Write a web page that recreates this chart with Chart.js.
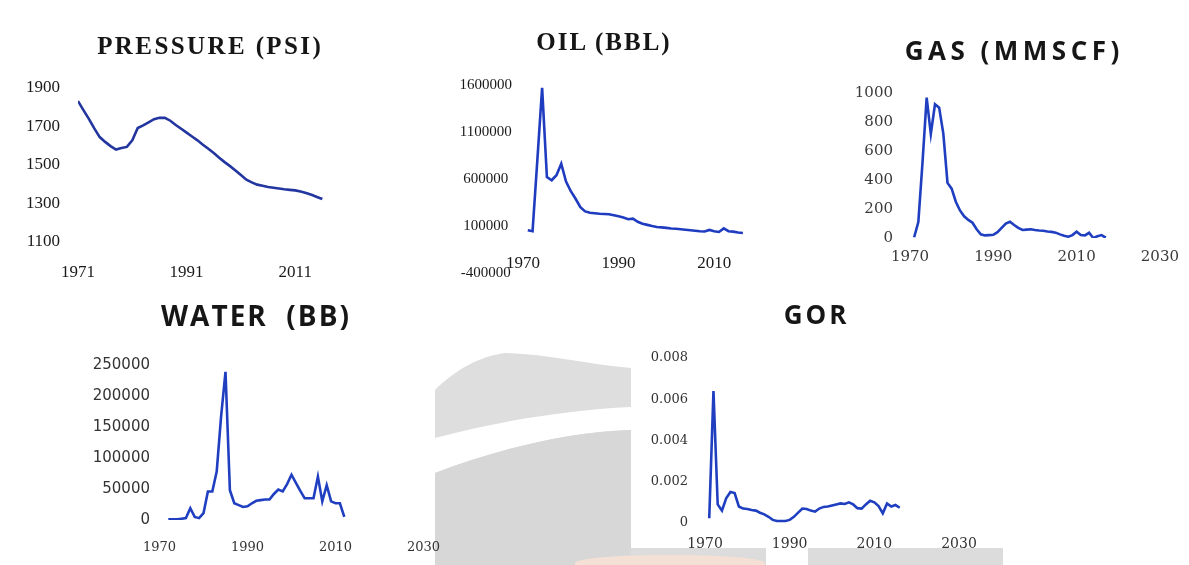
<!DOCTYPE html>
<html>
<head>
<meta charset="utf-8">
<script src="https://cdn.jsdelivr.net/npm/chart.js@4.4.1/dist/chart.umd.min.js"></script>
<style>
  html, body { margin: 0; padding: 0; background: #fff; }
  #page { position: relative; width: 1189px; height: 565px; overflow: hidden; background: #fff; }
  #page canvas { position: absolute; left: 0; top: 0; }
  .title { position: absolute; white-space: nowrap; color: #161616; font-weight: bold; transform: translate(-50%, -50%); line-height: 1; }
  .serif { font-family: 'Liberation Serif', serif; }
  .sans { font-family: 'Open Sans', sans-serif; }
  .deco { position: absolute; }
</style>
</head>
<body>
<div id="page">
  <!-- watermark behind the lower charts -->
  <svg class="deco" style="left:435px;top:350px" width="196" height="215">
    <path d="M0 40 C 20 20, 45 6, 70 3 C 110 4, 150 14, 196 18 L196 215 L0 215 Z" fill="#dedede"/>
    <path d="M0 88 C 60 72, 130 60, 196 57 L196 80 C 130 82, 60 100, 0 123 Z" fill="#ffffff"/>
    <path d="M0 123 C 60 100, 130 82, 196 80 L196 215 L0 215 Z" fill="#d7d7d7"/>
  </svg>
  <div class="deco" style="left:631px;top:548px;width:135px;height:17px;background:#dcdcdc"></div>
  <div class="deco" style="left:808px;top:548px;width:195px;height:17px;background:#dcdcdc"></div>
  <div class="deco" style="left:575px;top:555px;width:190px;height:16px;border-radius:50% 50% 0 0;background:#f5e0d6"></div>

  <canvas id="pressureChart" width="1189" height="565"></canvas>
  <canvas id="oilChart" width="1189" height="565"></canvas>
  <canvas id="gasChart" width="1189" height="565"></canvas>
  <canvas id="waterChart" width="1189" height="565"></canvas>
  <canvas id="gorChart" width="1189" height="565"></canvas>

  <div class="title serif" style="left:209px;top:45px;font-size:25px;letter-spacing:2.4px;padding-left:2.4px">PRESSURE (PSI)</div>
  <div class="title serif" style="left:603px;top:41px;font-size:25px;letter-spacing:2px;padding-left:2px">OIL (BBL)</div>
  <div class="title sans" style="left:1012px;top:50px;font-size:26px;letter-spacing:4.5px;padding-left:4.5px">GAS (MMSCF)</div>
  <div class="title sans" style="left:255px;top:315px;font-size:28px;letter-spacing:2px;padding-left:2px">WATER&nbsp; (BB)</div>
  <div class="title sans" style="left:815px;top:314px;font-size:26px;letter-spacing:3px;padding-left:3px">GOR</div>
</div>

<script>
// années
const years1971to2016 = [1971, 1972, 1973, 1974, 1975, 1976, 1977, 1978, 1979, 1980,
    1981, 1982, 1983, 1984, 1985, 1986, 1987, 1988, 1989, 1990,
    1991, 1992, 1993, 1994, 1995, 1996, 1997, 1998, 1999, 2000,
    2001, 2002, 2003, 2004, 2005, 2006, 2007, 2008, 2009, 2010,
    2011, 2012, 2013, 2014, 2015, 2016];
const years1971to2017 = [1971, 1972, 1973, 1974, 1975, 1976, 1977, 1978, 1979, 1980,
    1981, 1982, 1983, 1984, 1985, 1986, 1987, 1988, 1989, 1990,
    1991, 1992, 1993, 1994, 1995, 1996, 1997, 1998, 1999, 2000,
    2001, 2002, 2003, 2004, 2005, 2006, 2007, 2008, 2009, 2010,
    2011, 2012, 2013, 2014, 2015, 2016, 2017];
const years1972to2012 = [1972, 1973, 1974, 1975, 1976, 1977, 1978, 1979, 1980,
    1981, 1982, 1983, 1984, 1985, 1986, 1987, 1988, 1989, 1990,
    1991, 1992, 1993, 1994, 1995, 1996, 1997, 1998, 1999, 2000,
    2001, 2002, 2003, 2004, 2005, 2006, 2007, 2008, 2009, 2010,
    2011, 2012];

// PRESSURE (PSI), 1971-2016
const pressure = [1832, 1785, 1740, 1690, 1645, 1620, 1598, 1580, 1588, 1594,
    1628, 1692, 1706, 1722, 1738, 1745, 1745, 1730, 1708, 1688,
    1668, 1648, 1628, 1605, 1584, 1562, 1538, 1515, 1494, 1472,
    1448, 1424, 1410, 1398, 1392, 1386, 1382, 1378, 1374, 1371,
    1368, 1362, 1355, 1345, 1334, 1323];

// OIL (BBL), 1971-2016
const oil = [55000, 45000, 800000, 1570000, 620000, 587000, 640000, 763000, 573000, 470000,
    390000, 300000, 255000, 240000, 235000, 230000, 228000, 225000, 215000, 203000,
    190000, 172000, 178000, 145000, 125000, 112000, 100000, 90000, 85000, 80000,
    74000, 70000, 66000, 60000, 55000, 50000, 44000, 42000, 58000, 45000,
    37000, 75000, 45000, 40000, 30000, 26000];

// GAS (MMSCF), 1971-2017
const gas = [5, 110, 520, 968, 717, 922, 899, 720, 380, 340,
    250, 190, 150, 125, 105, 60, 25, 18, 20, 22,
    40, 70, 100, 112, 90, 70, 55, 58, 60, 55,
    52, 50, 45, 42, 37, 25, 15, 9, 20, 43,
    20, 18, 36, 0, 12, 20, 2];

// WATER (BB), 1972-2012
const water = [1000, 1000, 1000, 2000, 3000, 19000, 5000, 3000, 11000,
    46000, 46000, 78000, 167000, 239000, 48000, 27000, 24000, 21000, 22000,
    27000, 31000, 32000, 33000, 33000, 42000, 49000, 46000, 58000, 73000,
    60000, 47000, 35000, 35000, 35000, 70000, 30000, 56000, 30000, 27000,
    27000, 5000];

// GOR, 1971-2016
const gor = [0.00023, 0.0064, 0.0009, 0.0006, 0.0012, 0.0015, 0.00145, 0.0008, 0.0007, 0.00068,
    0.00063, 0.0006, 0.0005, 0.00042, 0.0003, 0.00015, 0.0001, 0.0001, 0.0001, 0.00015,
    0.0003, 0.0005, 0.0007, 0.00068, 0.0006, 0.00055, 0.0007, 0.00078, 0.0008, 0.00085,
    0.0009, 0.00095, 0.00092, 0.001, 0.0009, 0.00072, 0.0007, 0.0009, 0.00108, 0.001,
    0.00082, 0.00047, 0.00095, 0.0008, 0.00087, 0.00074];

// graduations
const pressureXTicks = [1971, 1991, 2011];
const pressureYTicks = [1100, 1300, 1500, 1700, 1900];
const oilXTicks = [1970, 1990, 2010];
const oilYTicks = [-400000, 100000, 600000, 1100000, 1600000];
const gasXTicks = [1970, 1990, 2010, 2030];
const gasYTicks = [0, 200, 400, 600, 800, 1000];
const waterXTicks = [1970, 1990, 2010, 2030];
const waterYTicks = [0, 50000, 100000, 150000, 200000, 250000];
const gorXTicks = [1970, 1990, 2010, 2030];
const gorYTicks = [0, 0.002, 0.004, 0.006, 0.008];

const PAGE_W = 1189, PAGE_H = 565;
const X_BOX = 40;

function drawSmallChart(id, years, values, xTicks, yTicks, o) {
    const points = values.map((v, i) => ({ x: years[i], y: v }));
    const yBox = Math.min(o.left, 120);
    const bottomPad = o.xAtZero ? PAGE_H - o.bottom : PAGE_H - o.bottom - X_BOX;
    return new Chart(document.getElementById(id), {
        type: 'line',
        data: {
            datasets: [{
                data: points,
                borderColor: o.color,
                borderWidth: 2.6,
                pointRadius: 0,
                tension: 0,
                fill: false
            }]
        },
        options: {
            responsive: false,
            animation: false,
            events: [],
            layout: {
                padding: { left: o.left - yBox, right: PAGE_W - o.right, top: o.top, bottom: bottomPad }
            },
            plugins: { legend: { display: false }, tooltip: { enabled: false }, title: { display: false } },
            scales: {
                x: {
                    type: 'linear',
                    min: o.xMin,
                    max: o.xMax,
                    position: o.xAtZero ? { y: 0 } : 'bottom',
                    grid: { display: false, drawTicks: false },
                    border: { display: false },
                    ticks: {
                        color: o.tickColor,
                        font: { family: o.xFont, size: o.xSize },
                        padding: o.xPad,
                        maxRotation: 0,
                        callback: v => String(v)
                    },
                    afterBuildTicks: s => { s.ticks = xTicks.map(v => ({ value: v })); },
                    afterFit: s => { s.height = X_BOX; }
                },
                y: {
                    min: yTicks[0],
                    max: yTicks[yTicks.length - 1],
                    grid: { display: false, drawTicks: false },
                    border: { display: false },
                    ticks: {
                        color: o.tickColor,
                        font: { family: o.yFont, size: o.ySize },
                        padding: o.yPad,
                        crossAlign: o.yAlign || 'near',
                        callback: v => String(v)
                    },
                    afterBuildTicks: s => { s.ticks = yTicks.map(v => ({ value: v })); },
                    afterFit: s => { s.width = yBox; }
                }
            }
        }
    });
}

drawSmallChart('pressureChart', years1971to2016, pressure, pressureXTicks, pressureYTicks, {
    left: 78, right: 349.5, top: 88, bottom: 242, xMin: 1971, xMax: 2021,
    color: '#23359f', tickColor: '#1a1a1a',
    xFont: 'Liberation Serif', xSize: 17, xPad: 20,
    yFont: 'Liberation Serif', ySize: 17, yPad: 18
});

drawSmallChart('oilChart', years1971to2016, oil, oilXTicks, oilYTicks, {
    left: 523, right: 762, top: 85, bottom: 273, xMin: 1970, xMax: 2020, xAtZero: true,
    color: '#1f3cc0', tickColor: '#1a1a1a',
    xFont: 'Liberation Serif', xSize: 17, xPad: 18,
    yFont: 'Liberation Serif', ySize: 15, yPad: 11, yAlign: 'center'
});

drawSmallChart('gasChart', years1971to2017, gas, gasXTicks, gasYTicks, {
    left: 910, right: 1163, top: 93, bottom: 238, xMin: 1970, xMax: 2030,
    color: '#1f3fc0', tickColor: '#3a3a3a',
    xFont: 'DejaVu Serif', xSize: 15, xPad: 10,
    yFont: 'DejaVu Serif', ySize: 15, yPad: 17
});

drawSmallChart('waterChart', years1972to2012, water, waterXTicks, waterYTicks, {
    left: 159.5, right: 423.5, top: 365, bottom: 520, xMin: 1970, xMax: 2030,
    color: '#1f3fc0', tickColor: '#333333',
    xFont: 'DejaVu Serif', xSize: 13, xPad: 20,
    yFont: 'DejaVu Sans', ySize: 15, yPad: 9.5
});

drawSmallChart('gorChart', years1971to2016, gor, gorXTicks, gorYTicks, {
    left: 705, right: 959, top: 358, bottom: 523, xMin: 1970, xMax: 2030,
    color: '#1f3fc0', tickColor: '#333333',
    xFont: 'DejaVu Serif', xSize: 14, xPad: 13,
    yFont: 'DejaVu Serif', ySize: 13, yPad: 17
});
</script>
</body>
</html>
